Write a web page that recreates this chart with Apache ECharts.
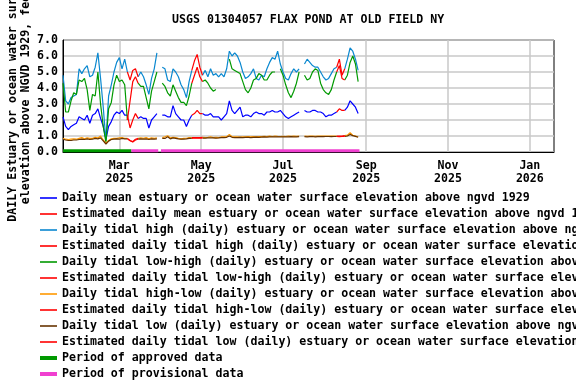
<!DOCTYPE html>
<html>
<head>
<meta charset="utf-8">
<title>USGS 01304057 FLAX POND AT OLD FIELD NY</title>
<script src="https://cdn.jsdelivr.net/npm/echarts@6/dist/echarts.min.js"></script>
<style>
  html, body { margin: 0; padding: 0; background: #fff; }
  #chart { width: 576px; height: 384px; }
</style>
</head>
<body>
<div id="chart"></div>
<script>
// sampled every 2 days from the first day of record
const firstDay = '2025-01-18';
const stepDays = 2;
const monthTicks = ['2025-03-01', '2025-05-01', '2025-07-01', '2025-09-01', '2025-11-01', '2026-01-01'];
const monthNames = ['Jan', 'Feb', 'Mar', 'Apr', 'May', 'Jun', 'Jul', 'Aug', 'Sep', 'Oct', 'Nov', 'Dec'];
const yTicks = [0, 1, 2, 3, 4, 5, 6, 7];

const meanValues = [
  2.2, 1.6, 1.4, 1.6, 1.7, 1.8, 2.2, 2.1, 2.0, 2.3, 1.8, 2.3, 2.4, 2.7, 2.1, 1.6, 0.8, 1.6, 1.9, 2.3,
  2.5, 2.4, 2.6, 2.3, 2.3, 1.5, 2.0, 2.4, 2.1, 2.2, 2.1, 2.1, 1.5, 2.0, 2.2, 2.4, null, 2.3, 2.3, 2.2,
  2.2, 2.9, 2.4, 2.2, 2.0, 2.0, 1.6, 2.0, 2.3, 2.4, 2.6, 2.4, 2.4, 2.3, 2.3, 2.4, 2.2, 2.2, 2.2, 2.0,
  2.2, 2.4, 3.2, 2.6, 2.4, 2.6, 2.8, 2.2, 2.3, 2.3, 2.2, 2.4, 2.5, 2.4, 2.4, 2.3, 2.5, 2.5, 2.6, 2.5,
  2.5, 2.6, 2.4, 2.2, 2.1, 2.2, 2.3, 2.4, 2.5, null, 2.6, 2.5, 2.5, 2.6, 2.6, 2.5, 2.5, 2.4, 2.2, 2.3,
  2.3, 2.4, 2.5, 2.7, 2.6, 2.6, 2.8, 3.2, 3.0, 2.8, 2.4
];
const highValues = [
  4.8, 3.2, 3.0, 3.4, 3.5, 3.6, 5.2, 4.9, 5.2, 5.4, 4.7, 4.8, 5.3, 6.2, 4.6, 2.8, 0.7, 3.5, 4.2, 5.0,
  5.6, 5.9, 5.2, 5.8, 5.0, 4.5, 5.1, 5.2, 4.7, 5.0, 4.7, 4.2, 3.6, 4.6, 5.2, 6.2, null, 5.3, 5.2, 4.5,
  4.4, 5.2, 5.0, 4.7, 4.2, 3.9, 3.4, 4.4, 5.1, 5.7, 6.1, 5.3, 4.8, 5.1, 4.7, 5.2, 4.8, 4.9, 4.7, 4.9,
  4.7, 5.2, 6.3, 6.0, 6.2, 6.0, 5.6, 5.0, 4.6, 4.7, 4.9, 5.2, 4.6, 4.5, 4.8, 4.7, 5.2, 5.6, 5.9, 5.8,
  6.3, 5.5, 5.0, 4.6, 4.5, 4.9, 5.2, 5.0, 5.2, null, 5.5, 5.8, 5.6, 5.4, 5.3, 5.3, 5.0, 4.7, 4.5, 4.6,
  4.9, 5.2, 5.3, 5.8, 4.8, 5.2, 5.8, 6.5, 6.3, 5.8, 5.1
];
const lowHighValues = [
  4.3, 2.5, 2.5, 3.2, 3.7, 3.6, 4.5, 4.4, 4.6, 3.9, 2.6, 3.6, 3.5, 5.0, 3.0, 1.6, 0.6, 2.7, 3.1, 4.2,
  4.8, 4.4, 4.5, 4.2, 2.0, 3.2, 4.4, 4.7, 4.3, 4.1, 4.1, 3.4, 2.7, 3.8, 4.4, 5.0, null, 4.3, 4.1, 3.7,
  3.5, 4.2, 3.8, 3.4, 3.1, 3.1, 2.9, 3.5, 4.3, 4.8, 5.3, 4.7, 4.4, 4.5, 4.3, 4.0, 3.8, 3.9, null, null,
  null, null, 5.8, 5.2, 5.1, 5.0, 4.9, 4.4, 3.9, 3.7, 4.0, 4.5, 4.6, 4.9, 4.8, 4.5, 4.5, 4.8, 5.0, 5.0,
  null, 5.2, 4.8, 4.2, 3.7, 3.4, 3.8, 4.3, 5.0, null, 4.8, 4.5, 4.6, 5.0, 5.2, 5.1, 4.3, 3.9, 3.7, 3.6,
  3.9, 4.5, 5.0, 5.4, 4.6, 4.5, 4.8, 5.6, 6.0, 5.5, 4.4
];
const highLowValues = [
  0.85, 0.8, 0.78, 0.8, 0.82, 0.8, 0.85, 0.9, 0.82, 0.88, 0.85, 0.85, 0.92, 0.88, 1.0, 0.75, 0.55, 0.72, 0.82, 0.85,
  0.85, 0.88, 0.9, 0.85, 0.85, 0.72, 0.65, 0.8, 0.85, 0.88, 0.85, 0.9, 0.82, 0.88, 0.85, 0.88, null, 0.9, 0.95, 1.02,
  0.88, 0.92, 0.9, 0.85, 0.82, 0.85, 0.86, 0.9, 0.9, 0.9, 0.9, 0.9, 0.92, 0.9, 0.92, 0.95, 0.9, 0.92, 0.9, 0.94,
  0.95, 0.96, 1.1, 0.96, 0.94, 0.95, 0.93, 0.95, 0.94, 0.96, 0.95, 0.97, 0.95, 0.97, 0.96, 0.98, 0.97, 0.99, 0.97, 1.0,
  0.98, 0.97, 0.98, 0.97, 1.0, 0.98, 0.99, 0.98, 1.0, null, 1.0, 0.98, 1.0, 1.0, 0.98, 1.0, 1.0, 0.99, 1.0, 1.0,
  0.99, 1.0, 1.0, 1.0, 1.0, 1.02, 1.05, 1.2, 1.05, 1.0, 0.95
];
const lowValues = [
  0.8, 0.75, 0.72, 0.72, 0.75, 0.75, 0.78, 0.8, 0.78, 0.82, 0.78, 0.8, 0.85, 0.82, 0.88, 0.7, 0.5, 0.68, 0.78, 0.8,
  0.82, 0.8, 0.85, 0.82, 0.82, 0.7, 0.62, 0.75, 0.8, 0.82, 0.8, 0.82, 0.78, 0.82, 0.8, 0.82, null, 0.85, 0.85, 0.95,
  0.82, 0.88, 0.85, 0.82, 0.8, 0.8, 0.82, 0.85, 0.85, 0.88, 0.86, 0.86, 0.87, 0.87, 0.88, 0.88, 0.88, 0.87, 0.88, 0.9,
  0.9, 0.92, 1.0, 0.92, 0.9, 0.9, 0.92, 0.9, 0.92, 0.92, 0.9, 0.92, 0.93, 0.92, 0.93, 0.94, 0.93, 0.95, 0.94, 0.95,
  0.95, 0.94, 0.95, 0.94, 0.95, 0.96, 0.95, 0.95, 0.96, null, 0.96, 0.95, 0.96, 0.97, 0.95, 0.96, 0.97, 0.96, 0.97, 0.97,
  0.96, 0.97, 0.97, 0.96, 0.97, 0.98, 1.0, 1.1, 1.02, 0.98, 0.92
];
// sample index ranges (ends included) where values are estimated
const estimatedSpans = [[24, 28], [48, 52], [102, 105]];
const approvedSpans = [['2025-01-18', '2025-03-10']];
const provisionalSpans = [['2025-03-10', '2025-03-30'], ['2025-04-01', '2025-08-27']];

const FONT = 'DejaVu Sans Mono';
const toTime = (s) => {
  const p = s.split('-').map(Number);
  return new Date(p[0], p[1] - 1, p[2]).getTime();
};
const first = firstDay.split('-').map(Number);
const sampleTimes = meanValues.map((v, i) => new Date(first[0], first[1] - 1, first[2] + i * stepDays).getTime());

const splitEstimated = (values) => {
  const main = values.slice();
  const est = values.map(() => null);
  estimatedSpans.forEach(([a, b]) => {
    for (let i = a; i <= b; i++) {
      est[i] = values[i];
      if (i > a && i < b) main[i] = null;
    }
  });
  return {
    main: sampleTimes.map((t, i) => [t, main[i]]),
    est: sampleTimes.map((t, i) => [t, est[i]])
  };
};

const spanData = (spans) => {
  const out = [];
  spans.forEach(([a, b], k) => {
    if (k > 0) out.push([toTime(a), null]);
    out.push([toTime(a), 0.08], [toTime(b), 0.08]);
  });
  return out;
};

const lineSeries = (name, color, data) => ({
  name, type: 'line', data, color,
  showSymbol: false, symbol: 'none', connectNulls: false,
  lineStyle: { width: 1.2, color },
  itemStyle: { color },
  animation: false
});

const groups = [
  ['Daily mean estuary or ocean water surface elevation above ngvd 1929', '#0000ff', meanValues],
  ['Daily tidal high (daily) estuary or ocean water surface elevation above ngvd 1929', '#0a88d0', highValues],
  ['Daily tidal low-high (daily) estuary or ocean water surface elevation above ngvd 1929', '#009900', lowHighValues],
  ['Daily tidal high-low (daily) estuary or ocean water surface elevation above ngvd 1929', '#ff9900', highLowValues],
  ['Daily tidal low (daily) estuary or ocean water surface elevation above ngvd 1929', '#663300', lowValues]
];

const series = [];
const legendData = [];
const thinIcon = 'path://M0 0H17V1.6H0Z';
const thickIcon = 'path://M0 0H17V4H0Z';
groups.forEach(([name, color, values]) => {
  const parts = splitEstimated(values);
  const estName = 'Estimated d' + name.slice(1);
  series.push(lineSeries(name, color, parts.main));
  series.push(lineSeries(estName, '#ff0000', parts.est));
  legendData.push({ name, icon: thinIcon }, { name: estName, icon: thinIcon });
});
const periods = [
  ['Period of approved data', '#009900', approvedSpans],
  ['Period of provisional data', '#f040d0', provisionalSpans]
];
periods.forEach(([name, color, spans]) => {
  const s = lineSeries(name, color, spanData(spans));
  s.lineStyle.width = 3;
  series.push(s);
  legendData.push({ name, icon: thickIcon });
});

const myChart = echarts.init(document.getElementById('chart'), null, { renderer: 'canvas' });
const textStyle = { fontFamily: FONT, fontWeight: 'bold', fontSize: 11.6, color: '#000' };
const tickTimes = monthTicks.map(toTime);

myChart.setOption({
  backgroundColor: '#fff',
  animation: false,
  title: {
    text: 'USGS 01304057 FLAX POND AT OLD FIELD NY',
    left: 172, top: 14, padding: 0,
    textStyle: textStyle
  },
  graphic: [{
    type: 'text', x: 19, y: 96, rotation: Math.PI / 2,
    style: {
      text: 'DAILY Estuary or ocean water surface\nelevation above NGVD 1929, feet',
      align: 'center', verticalAlign: 'middle', lineHeight: 13,
      font: 'bold 11.6px "' + FONT + '"', fill: '#000'
    }
  }],
  grid: {
    left: 63, top: 40, right: 22, bottom: 232,
    show: true, borderColor: '#000', borderWidth: 1, backgroundColor: '#fff'
  },
  legend: {
    orient: 'vertical', left: 40, top: 191, padding: 0,
    itemWidth: 17, itemHeight: 4, itemGap: 2,
    selectedMode: false,
    textStyle: Object.assign({ lineHeight: 14 }, textStyle),
    itemStyle: { borderWidth: 0 },
    data: legendData
  },
  xAxis: {
    type: 'value',
    min: toTime('2025-01-18'), max: toTime('2026-01-19'),
    axisLine: { show: true, onZero: false, lineStyle: { color: '#000', width: 1 } },
    axisTick: { show: false, customValues: tickTimes },
    axisLabel: {
      customValues: tickTimes,
      margin: 7, lineHeight: 13,
      fontFamily: FONT, fontWeight: 'bold', fontSize: 11.6, color: '#000',
      formatter: (v) => {
        const d = new Date(v);
        return monthNames[d.getMonth()] + '\n' + d.getFullYear();
      }
    },
    splitLine: { show: true, lineStyle: { color: '#c8c8c8', width: 1.5 } }
  },
  yAxis: {
    type: 'value', min: yTicks[0], max: yTicks[yTicks.length - 1], interval: 1,
    axisLine: { show: true, lineStyle: { color: '#000', width: 1 } },
    axisTick: { show: false },
    axisLabel: {
      margin: 5, fontFamily: FONT, fontWeight: 'bold', fontSize: 11.6, color: '#000',
      formatter: (v) => v.toFixed(1)
    },
    splitLine: { show: true, lineStyle: { color: '#c8c8c8', width: 1.5 } }
  },
  series: series
});
</script>
</body>
</html>
